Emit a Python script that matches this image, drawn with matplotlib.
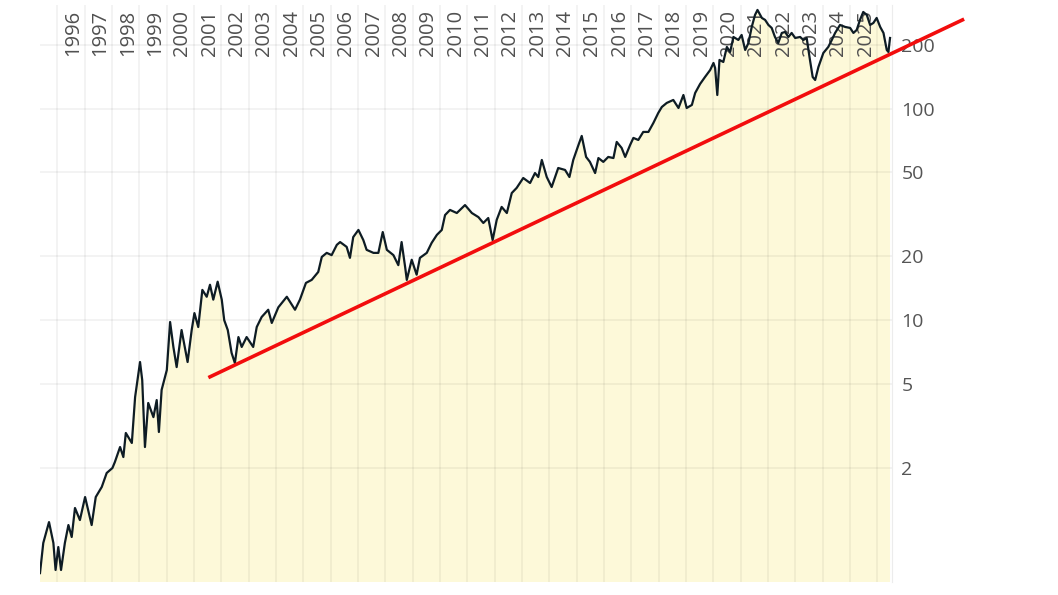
import numpy as np
import matplotlib
matplotlib.use("Agg")
import matplotlib.pyplot as plt

# price history (fractional year, price)
years = [1994.79, 1994.83, 1994.91, 1995.12, 1995.28, 1995.36, 1995.46, 1995.56, 1995.70, 1995.83,
         1995.95, 1996.07, 1996.25, 1996.44, 1996.68, 1996.83, 1997.05, 1997.23, 1997.44, 1997.53,
         1997.72, 1997.84, 1997.93, 1998.15, 1998.27, 1998.45, 1998.53, 1998.63, 1998.75, 1998.94,
         1999.06, 1999.14, 1999.24, 1999.43, 1999.55, 1999.67, 1999.79, 1999.97, 2000.19, 2000.34,
         2000.44, 2000.58, 2000.73, 2000.89, 2001.01, 2001.13, 2001.29, 2001.44, 2001.53, 2001.66,
         2001.80, 2001.92, 2002.05, 2002.17, 2002.35, 2002.59, 2002.72, 2002.90, 2003.14, 2003.27,
         2003.51, 2003.82, 2004.12, 2004.30, 2004.52, 2004.73, 2004.97, 2005.10, 2005.28, 2005.46,
         2005.65, 2005.77, 2006.01, 2006.13, 2006.25, 2006.44, 2006.62, 2006.74, 2006.99, 2007.17,
         2007.33, 2007.48, 2007.72, 2007.90, 2008.02, 2008.15, 2008.21, 2008.39, 2008.57, 2008.69,
         2008.94, 2009.12, 2009.31, 2009.49, 2009.61, 2009.79, 2010.04, 2010.34, 2010.59, 2010.83,
         2011.01, 2011.19, 2011.35, 2011.50, 2011.68, 2011.87, 2012.05, 2012.23, 2012.47, 2012.72,
         2012.90, 2013.02, 2013.15, 2013.33, 2013.51, 2013.75, 2014.00, 2014.16, 2014.30, 2014.49,
         2014.61, 2014.77, 2014.91, 2015.10, 2015.22, 2015.40, 2015.58, 2015.77, 2015.89, 2016.07,
         2016.20, 2016.38, 2016.50, 2016.68, 2016.86, 2017.05, 2017.23, 2017.41, 2017.54, 2017.72,
         2017.96, 2018.15, 2018.33, 2018.45, 2018.64, 2018.76, 2018.94, 2019.12, 2019.31, 2019.43,
         2019.49, 2019.57, 2019.65, 2019.79, 2019.92, 2020.04, 2020.16, 2020.34, 2020.46, 2020.59,
         2020.71, 2020.83, 2020.95, 2021.04, 2021.20, 2021.32, 2021.44, 2021.56, 2021.68, 2021.80,
         2021.93, 2022.05, 2022.17, 2022.29, 2022.42, 2022.60, 2022.72, 2022.84, 2022.96, 2023.06,
         2023.15, 2023.27, 2023.45, 2023.63, 2023.76, 2023.88, 2024.06, 2024.25, 2024.43, 2024.55,
         2024.67, 2024.79, 2024.91, 2025.04, 2025.16, 2025.28, 2025.40, 2025.53, 2025.65, 2025.77,
         2025.83, 2025.89]
prices = [0.637, 0.711, 0.884, 1.11, 0.884, 0.659, 0.846, 0.659, 0.884, 1.075,
          0.944, 1.294, 1.135, 1.458, 1.075, 1.458, 1.627, 1.894, 2.0, 2.135,
          2.513, 2.254, 2.928, 2.626, 4.33, 6.34, 5.21, 2.513, 4.06, 3.48,
          4.19, 2.96, 4.68, 5.81, 9.80, 7.47, 6.00, 8.98, 6.34, 8.98,
          10.8, 9.28, 13.9, 12.9, 14.7, 12.5, 15.2, 12.5, 10.0, 8.98,
          7.0, 6.27, 8.32, 7.47, 8.32, 7.47, 9.28, 10.35, 11.2, 9.7,
          11.5, 12.9, 11.2, 12.5, 15.0, 15.5, 16.9, 19.9, 20.8, 20.3,
          22.7, 23.4, 22.2, 19.7, 24.7, 26.7, 23.9, 21.5, 20.8, 20.8,
          26.1, 21.5, 20.3, 18.2, 23.4, 17.8, 15.5, 19.3, 16.4, 19.7,
          20.8, 23.2, 25.3, 26.7, 31.4, 33.2, 32.1, 35.0, 32.1, 30.7,
          28.8, 30.4, 23.9, 29.8, 34.3, 32.1, 39.9, 42.2, 47.0, 44.5,
          49.6, 47.5, 57.2, 47.5, 42.6, 52.4, 51.3, 47.5, 57.2, 67.3,
          74.3, 59.1, 56.0, 49.6, 58.4, 56.0, 59.1, 58.4, 69.6, 65.2,
          59.1, 67.3, 72.7, 71.1, 77.6, 77.6, 85.5, 95.4, 101.8, 106.4,
          109.9, 100.7, 116.0, 100.7, 104.1, 118.6, 130.8, 141.1, 152.3, 164.4,
          155.7, 116.0, 169.9, 166.2, 195.7, 185.3, 218.2, 211.2, 223.0, 189.4,
          204.4, 243.3, 277.3, 292.8, 268.4, 262.6, 248.7, 240.7, 218.2, 204.4,
          227.9, 230.4, 218.2, 227.9, 215.8, 218.2, 211.2, 215.8, 169.9, 141.1,
          136.6, 157.4, 183.3, 195.7, 211.2, 227.9, 248.7, 243.3, 240.7, 227.9,
          235.5, 262.6, 286.4, 277.3, 248.7, 254.1, 268.4, 243.3, 227.9, 189.4,
          185.3, 215.8]

# support trend line (two anchor points)
trend_years = [2000.95, 2028.6]
trend_prices = [5.35, 265.0]

year_labels = list(range(1996, 2026))
y_ticks = [2, 5, 10, 20, 50, 100, 200]

fig = plt.figure(figsize=(10.58, 5.95), dpi=100)
ax = fig.add_axes([0.0378, 0.0218, 0.805, 0.9698])

ax.set_yscale('log')
ax.set_xlim(1994.79, 2025.95)
ax.set_ylim(0.578, 309)

ax.fill_between(years, prices, 0.01, color='#fdf9d9', lw=0, zorder=1)
ax.plot(years, prices, color='#0e1c24', lw=1.6, zorder=3)
ax.plot(trend_years, trend_prices, color='#f20d0d', lw=2.6, zorder=4,
        clip_on=False, solid_capstyle='butt')

# grid
ax.set_xticks([y + 0.43 for y in range(1995, 2026)])
ax.set_xticklabels([])
ax.set_yticks(y_ticks)
ax.set_yticklabels([str(v) for v in y_ticks])
ax.yaxis.set_minor_locator(matplotlib.ticker.NullLocator())
ax.yaxis.tick_right()
ax.tick_params(axis='both', length=0)
ax.tick_params(axis='y', pad=7, labelsize=14, labelcolor='#555555')
for lbl in ax.get_yticklabels():
    lbl.set_fontfamily('Open Sans')
ax.grid(True, color='#000000', alpha=0.055, lw=1.2)
ax.set_axisbelow('line')

for s in ['left', 'top', 'bottom']:
    ax.spines[s].set_visible(False)
ax.spines['right'].set_color('#ececec')

# year labels inside top of plot
for yr in year_labels:
    ax.text(yr, 0.991, str(yr), transform=ax.get_xaxis_transform(),
            rotation=90, ha='center', va='top', fontsize=14.5,
            color='#505050', family='Open Sans', zorder=2)

fig.savefig('out.png', dpi=100)
